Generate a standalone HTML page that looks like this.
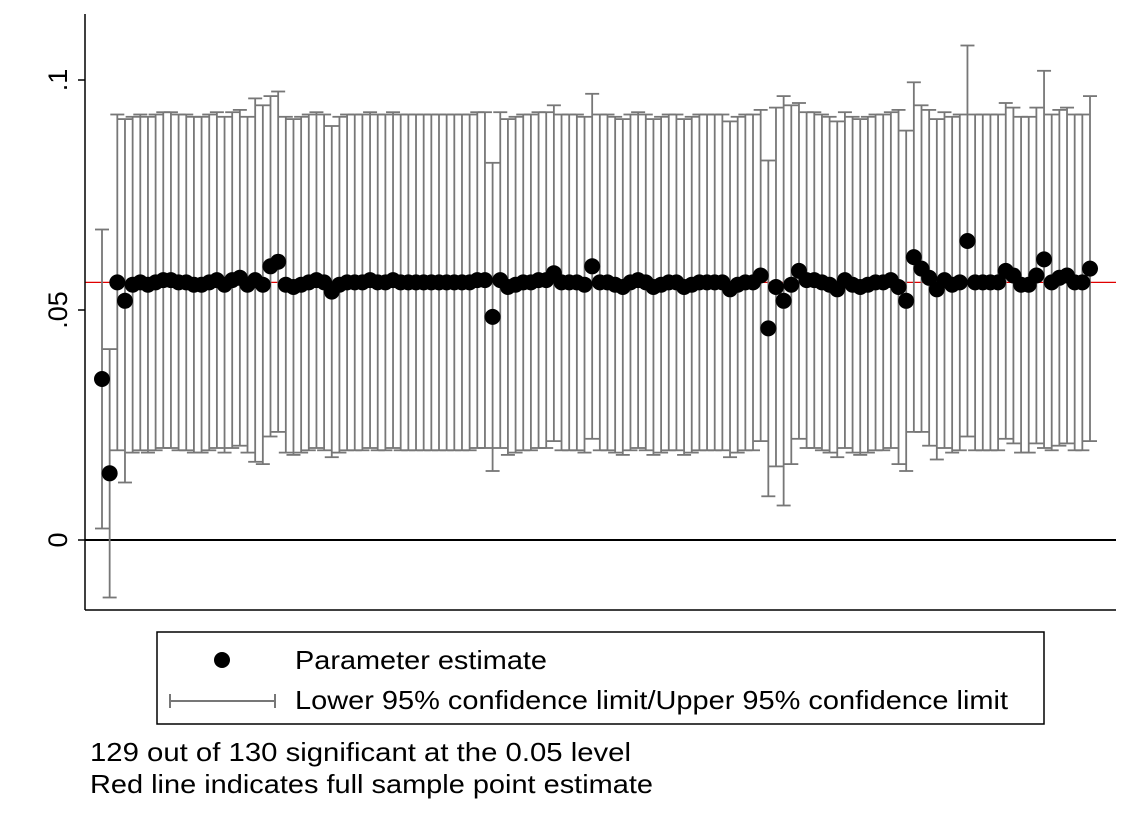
<!DOCTYPE html>
<html><head><meta charset="utf-8"><style>
body{margin:0;background:#fff;}
svg{display:block;font-family:"Liberation Sans",Arial,sans-serif;}
</style></head><body>
<svg id="chart" width="1146" height="834" viewBox="0 0 1146 834" xmlns="http://www.w3.org/2000/svg">
<rect width="1146" height="834" fill="#fff"/>
<g id="bars"></g>
<g id="pts"></g>
<line x1="85" y1="610" x2="1116" y2="610" stroke="#000" stroke-width="1.5"/>
<line x1="85" y1="14" x2="85" y2="610" stroke="#000" stroke-width="1.5"/>
<g id="ticks"></g>
<g>
<rect x="157" y="632" width="887" height="92" fill="#fff" stroke="#000" stroke-width="1.5"/>
<circle cx="222" cy="660" r="8" fill="#000"/>
<text x="295" y="669" font-size="26" textLength="252" lengthAdjust="spacingAndGlyphs">Parameter estimate</text>
<line x1="170" y1="701" x2="275" y2="701" stroke="#777" stroke-width="2"/>
<line x1="170" y1="694" x2="170" y2="708" stroke="#777" stroke-width="2"/>
<line x1="275" y1="694" x2="275" y2="708" stroke="#777" stroke-width="2"/>
<text x="295" y="709" font-size="26" textLength="713" lengthAdjust="spacingAndGlyphs">Lower 95% confidence limit/Upper 95% confidence limit</text>
</g>
<text x="90" y="761" font-size="26" textLength="541" lengthAdjust="spacingAndGlyphs">129 out of 130 significant at the 0.05 level</text>
<text x="90" y="793" font-size="26" textLength="563" lengthAdjust="spacingAndGlyphs">Red line indicates full sample point estimate</text>
</svg>
<script>
const est = [
.035,.0145,.056,.052,.0555,.056,.0555,.056,.0565,.0565,
.056,.056,.0555,.0555,.056,.0565,.0555,.0565,.057,.0555,
.0565,.0555,.0595,.0605,.0555,.055,.0555,.056,.0565,.056,
.054,.0555,.056,.056,.056,.0565,.056,.056,.0565,.056,
.056,.056,.056,.056,.056,.056,.056,.056,.056,.0565,
.0565,.0485,.0565,.055,.0555,.056,.056,.0565,.0565,.058,
.056,.056,.056,.0555,.0595,.056,.056,.0555,.055,.056,
.0565,.056,.055,.0555,.056,.056,.055,.0555,.056,.056,
.056,.056,.0545,.0555,.056,.056,.0575,.046,.055,.052,
.0555,.0585,.0565,.0565,.056,.0555,.0545,.0565,.0555,.055,
.0555,.056,.056,.0565,.055,.052,.0615,.059,.057,.0545,
.0565,.0555,.056,.065,.056,.056,.056,.056,.0585,.0575,
.0555,.0555,.0575,.061,.056,.057,.0575,.056,.056,.059];
const halfWidth = [
.0325,.027,.0365,.0395,.0365,.0365,.0365,.0365,.0365,.0365,
.0365,.0365,.0365,.0365,.0365,.0365,.0365,.0365,.0365,.0365,
.0395,.039,.037,.037,.0365,.0365,.0365,.0365,.0365,.0365,
.036,.0365,.0365,.0365,.0365,.0365,.0365,.0365,.0365,.0365,
.0365,.0365,.0365,.0365,.0365,.0365,.0365,.0365,.0365,.0365,
.0365,.0335,.0365,.0365,.0365,.0365,.0365,.0365,.0365,.0365,
.0365,.0365,.0365,.0365,.0375,.0365,.0365,.0365,.0365,.0365,
.0365,.0365,.0365,.0365,.0365,.0365,.0365,.0365,.0365,.0365,
.0365,.0365,.0365,.0365,.0365,.0365,.036,.0365,.039,.0445,
.039,.0365,.0365,.0365,.0365,.0365,.0365,.0365,.0365,.0365,
.0365,.0365,.0365,.0365,.0385,.037,.038,.0355,.0365,.037,
.0365,.0365,.0365,.0425,.0365,.0365,.0365,.0365,.0365,.0365,
.0365,.0365,.0365,.041,.0365,.0365,.0365,.0365,.0365,.0375];
const fullEstimate = 0.056;
const yTicks = [0, 0.05, 0.1];
const yTickLabels = ["0", ".05", ".1"];

const NS = "http://www.w3.org/2000/svg";
const yS = v => 540 - v * 4600;
const xS = i => 102 + i * (988 / (est.length - 1));
function mk(tag, attrs, parent){const e=document.createElementNS(NS,tag);for(const k in attrs)e.setAttribute(k,attrs[k]);parent.appendChild(e);return e;}
const bars = document.getElementById('bars');
const pts = document.getElementById('pts');
const ticks = document.getElementById('ticks');

const zl = mk('line',{x1:85,x2:1116,y1:yS(0),y2:yS(0),stroke:'#000','stroke-width':2},bars);


const rl = mk('line',{x1:85,x2:1116,y1:yS(fullEstimate),y2:yS(fullEstimate),stroke:'#e00000','stroke-width':1.3},bars);



est.forEach((v,i)=>{
  const x = xS(i), lo = yS(v - halfWidth[i]), hi = yS(v + halfWidth[i]);
  const g = mk('g',{stroke:'#777','stroke-width':1.8},bars);
  
  
  mk('line',{x1:x,x2:x,y1:lo,y2:hi},g);
  mk('line',{x1:x-7,x2:x+7,y1:lo,y2:lo},g);
  mk('line',{x1:x-7,x2:x+7,y1:hi,y2:hi},g);
});
est.forEach((v,i)=>{
  const c = mk('circle',{cx:xS(i),cy:yS(v),r:8,fill:'#000'},pts);
  
  
});
yTicks.forEach((t,i)=>{
  const y = yS(t);
  mk('line',{x1:78,x2:85,y1:y,y2:y,stroke:'#000','stroke-width':1.5},ticks);
  const tx = mk('text',{x:0,y:0,'font-size':27,'text-anchor':'middle',transform:`translate(67 ${y}) rotate(-90)`},ticks);
  
  
  tx.textContent = yTickLabels[i];
});
</script>
</body></html>
